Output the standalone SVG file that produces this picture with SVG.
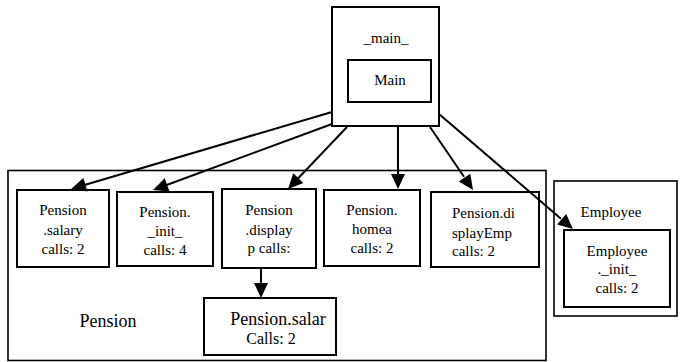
<svg xmlns="http://www.w3.org/2000/svg" width="681" height="362" viewBox="0 0 681 362">
<style>
.t{font-family:"Liberation Serif","Times New Roman",serif;font-size:15px;fill:#000}
.c{text-anchor:middle}
.box{fill:#fff;stroke:#000;stroke-width:2}
.cont{fill:#fff;stroke:#000;stroke-width:1.6}
.edge{stroke:#000;stroke-width:2;fill:none}
.head{fill:#000;stroke:none}
</style>
<rect width="681" height="362" fill="#fff"/>
<g id="Pension">
<rect class="cont" x="8" y="170.5" width="538" height="190"/>
<text class="t c" x="108" y="327" style="font-size:18px">Pension</text>
</g>
<g id="Employee">
<rect class="cont" x="554" y="181" width="123" height="135"/>
<text class="t c" x="611" y="217">Employee</text>
</g>
<g id="main">
<rect class="box" x="332" y="7" width="107" height="119"/>
<text class="t c" x="386" y="43">_main_</text>
</g>
<g id="Main">
<rect class="box" x="348" y="60" width="83" height="42"/>
<text class="t c" x="390" y="85">Main</text>
</g>
<g id="Pension.salary">
<rect class="box" x="17" y="190" width="92" height="77"/>
<text class="t c" x="63" y="215">Pension</text>
<text class="t c" x="63" y="235">.salary</text>
<text class="t c" x="63" y="254">calls: 2</text>
</g>
<g id="Pension._init_">
<rect class="box" x="117" y="192" width="96" height="74"/>
<text class="t c" x="165" y="217">Pension.</text>
<text class="t c" x="165" y="236">_init_</text>
<text class="t c" x="165" y="255">calls: 4</text>
</g>
<g id="Pension.display">
<rect class="box" x="222" y="189" width="94" height="79"/>
<text class="t c" x="269" y="215">Pension</text>
<text class="t c" x="269" y="235">.display</text>
<text class="t c" x="269" y="253">p calls:</text>
</g>
<g id="Pension.homea">
<rect class="box" x="324" y="190" width="96" height="76"/>
<text class="t c" x="372" y="215">Pension.</text>
<text class="t c" x="372" y="234">homea</text>
<text class="t c" x="372" y="253">calls: 2</text>
</g>
<g id="Pension.displayEmp">
<rect class="box" x="431" y="192" width="108" height="75"/>
<text class="t" x="452" y="218">Pension.di</text>
<text class="t" x="452" y="238">splayEmp</text>
<text class="t" x="452" y="256">calls: 2</text>
</g>
<g id="Pension.salar">
<rect class="box" x="204" y="298" width="132" height="57"/>
<text class="t c" x="278" y="325" style="font-size:18px">Pension.salar</text>
<text class="t c" x="271" y="344" style="font-size:16px">Calls: 2</text>
</g>
<g id="Employee._init_">
<rect class="box" x="564" y="230" width="106" height="77"/>
<text class="t c" x="617" y="256">Employee</text>
<text class="t c" x="617" y="274">._init_</text>
<text class="t c" x="617" y="293">calls: 2</text>
</g>
<g id="connectors">
<line class="edge" x1="332" y1="112" x2="84.5" y2="185"/>
<polygon class="head" points="71,189 87.4,191.5 83.4,178"/>
<line class="edge" x1="332" y1="124" x2="166" y2="185.2"/>
<polygon class="head" points="153,190 169.5,191.4 164.7,178.2"/>
<line class="edge" x1="347" y1="127" x2="297.7" y2="178.8"/>
<polygon class="head" points="288,189 303.4,183 293.3,173.3"/>
<line class="edge" x1="398" y1="127" x2="398" y2="175"/>
<polygon class="head" points="398,189 391,174 405,174"/>
<line class="edge" x1="430" y1="127" x2="464" y2="176.8"/>
<polygon class="head" points="473,190 470.3,173.7 458.8,181.6"/>
<line class="edge" x1="439" y1="114" x2="561" y2="218.7"/>
<polygon class="head" points="573,229 566.2,213.9 557.1,224.5"/>
<line class="edge" x1="261" y1="268" x2="261" y2="284"/>
<polygon class="head" points="261,298 254,283 268,283"/>
</g>
</svg>
